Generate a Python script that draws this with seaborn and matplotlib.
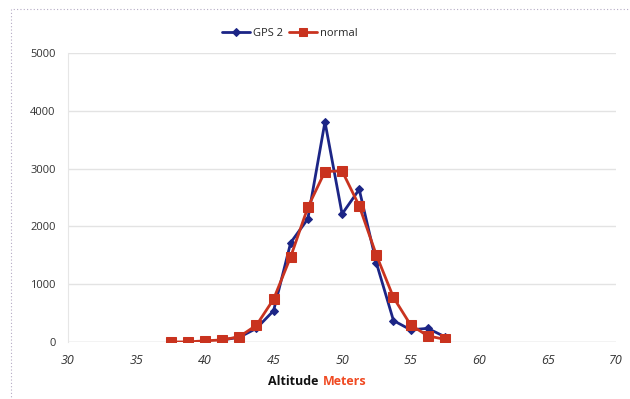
import numpy as np
import pandas as pd
import seaborn as sns
from matplotlib import pyplot as plt
from matplotlib.patches import Rectangle

# altitude bins (meters), 1.25 m wide
normal_x = [37.5, 38.75, 40.0, 41.25, 42.5, 43.75, 45.0, 46.25, 47.5, 48.75,
            50.0, 51.25, 52.5, 53.75, 55.0, 56.25, 57.5]
normal_y = [0, 0, 20, 35, 90, 290, 740, 1475, 2330, 2950,
            2960, 2355, 1505, 770, 295, 105, 45]

gps_x = [41.25, 42.5, 43.75, 45.0, 46.25, 47.5, 48.75, 50.0, 51.25,
         52.5, 53.75, 55.0, 56.25, 57.5]
gps_y = [35, 80, 235, 540, 1720, 2130, 3810, 2215, 2640,
         1370, 370, 210, 235, 90]

xticks = [30, 35, 40, 45, 50, 55, 60, 65, 70]
yticks = [0, 1000, 2000, 3000, 4000, 5000]

sns.set_style('white')
plt.rcParams['font.family'] = ['Open Sans', 'DejaVu Sans']

fig, ax = plt.subplots(figsize=(6.3, 3.99), dpi=100)
fig.subplots_adjust(left=0.108, right=0.978, top=0.867, bottom=0.143)

blue = '#1c2586'
red = '#c9331f'

gps_df = pd.DataFrame({'x': gps_x, 'y': gps_y})
norm_df = pd.DataFrame({'x': normal_x, 'y': normal_y})

sns.lineplot(data=gps_df, x='x', y='y', ax=ax, color=blue, lw=2,
             marker='D', markersize=4.5, markeredgecolor=blue, label='GPS 2', zorder=3)
sns.lineplot(data=norm_df, x='x', y='y', ax=ax, color=red, lw=2,
             marker='s', markersize=7, markeredgecolor=red, label='normal', zorder=4)

ax.set_xlim(30, 70)
ax.set_ylim(0, 5000)
ax.set_xticks(xticks)
ax.set_yticks(yticks)
ax.set_xticklabels([str(t) for t in xticks], fontstyle='italic', fontsize=9, color='#333333')
ax.set_yticklabels([str(t) for t in yticks], fontsize=8, color='#333333')
ax.set_xticks(np.arange(30, 71, 2.5), minor=True)
ax.tick_params(axis='x', which='both', length=0, pad=9)
ax.tick_params(axis='y', length=0, pad=9)
ax.grid(axis='y', color='#e3e3e3', lw=1)
for s in ['top', 'right', 'bottom']:
    ax.spines[s].set_visible(False)
ax.spines['left'].set_color('#e6e6e6')
ax.axhline(0, color='#dddddd', lw=1, zorder=1)
ax.set_xlabel('')
ax.set_ylabel('')

leg = ax.legend(loc='upper center', bbox_to_anchor=(0.46, 0.955), bbox_transform=fig.transFigure,
                ncol=2, frameon=False, fontsize=8, handlelength=2.5, columnspacing=0.5,
                handletextpad=0.3, markerscale=0.8)

fig.text(0.505, 0.045, 'Altitude', fontsize=9, fontweight='bold', ha='right', va='center', color='#111111')
fig.text(0.512, 0.045, 'Meters', fontsize=9, fontweight='bold', ha='left', va='center', color='#f04a22')

fig.patches.append(Rectangle((0.017, -0.02), 1.0, 0.997, transform=fig.transFigure,
                             fill=False, ls=(0, (1, 2)), lw=0.8, ec='#b4aac4'))

fig.savefig('out.png', dpi=100)
